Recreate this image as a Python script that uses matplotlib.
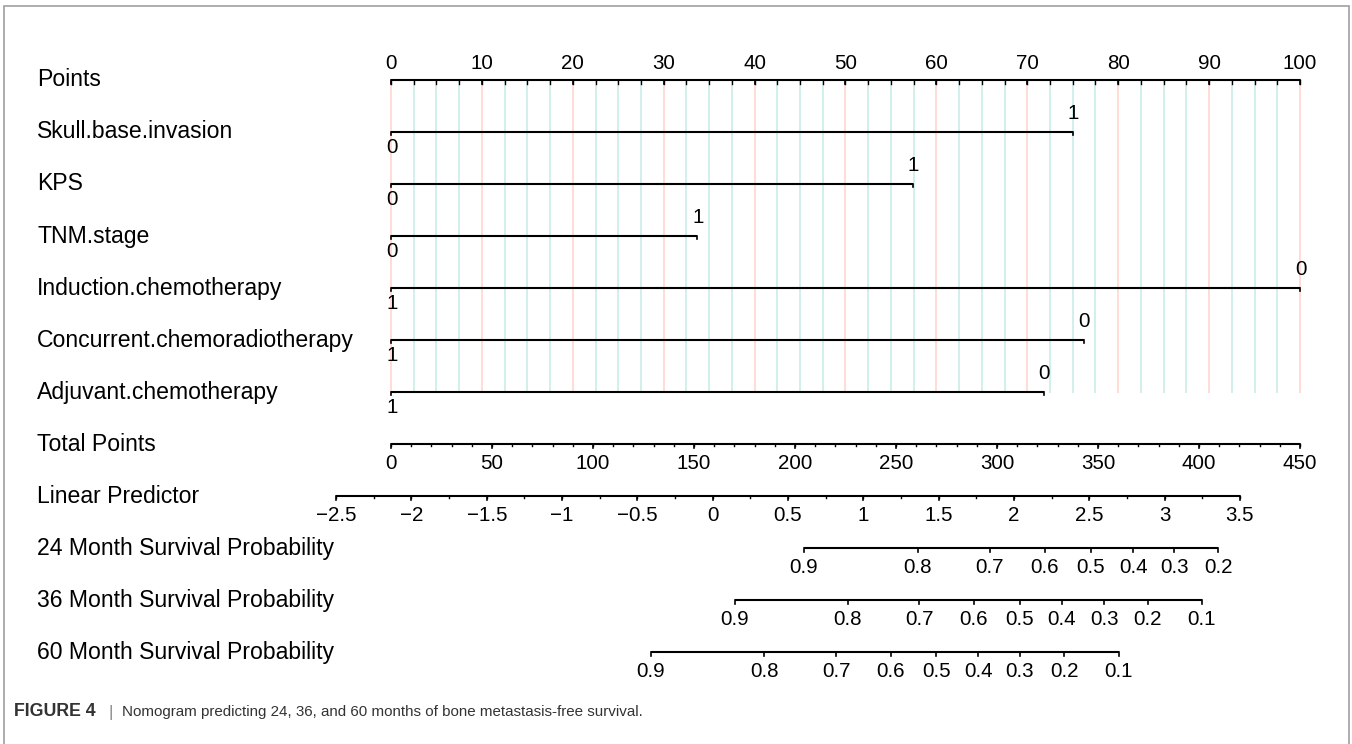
import matplotlib.pyplot as plt
import numpy as np
from matplotlib.patches import Rectangle
from matplotlib.transforms import blended_transform_factory

plt.rcParams['font.family'] = ['Liberation Sans', 'DejaVu Sans']

# ---- data ----
row_labels = ['Points', 'Skull.base.invasion', 'KPS', 'TNM.stage',
              'Induction.chemotherapy', 'Concurrent.chemoradiotherapy',
              'Adjuvant.chemotherapy', 'Total Points', 'Linear Predictor',
              '24 Month Survival Probability', '36 Month Survival Probability',
              '60 Month Survival Probability']

# factor rows: level drawn at 0 points, level drawn at the far end, and its points
factor_zero_level = ['0', '0', '0', '1', '1', '1']
factor_end_level = ['1', '1', '1', '0', '0', '0']
factor_points = [75.0, 57.4, 33.7, 100.0, 76.2, 71.8]

points_major = np.arange(0, 101, 10)
points_minor = np.arange(0, 100.1, 2.5)

total_major = np.arange(0, 451, 50)
total_minor = np.arange(0, 451, 10)

lp_major = [-2.5, -2, -1.5, -1, -0.5, 0, 0.5, 1, 1.5, 2, 2.5, 3, 3.5]
lp_minor = np.arange(-2.5, 3.51, 0.25)

surv_probs_24 = [0.9, 0.8, 0.7, 0.6, 0.5, 0.4, 0.3, 0.2]
surv_lp_24 = [0.606, 1.363, 1.838, 2.203, 2.509, 2.791, 3.063, 3.355]
surv_probs_36 = [0.9, 0.8, 0.7, 0.6, 0.5, 0.4, 0.3, 0.2, 0.1]
surv_lp_36 = [0.145, 0.898, 1.373, 1.732, 2.040, 2.319, 2.598, 2.890, 3.247]
surv_probs_60 = [0.9, 0.8, 0.7, 0.6, 0.5, 0.4, 0.3, 0.2, 0.1]
surv_lp_60 = [-0.411, 0.343, 0.819, 1.183, 1.483, 1.762, 2.040, 2.333, 2.695]

caption_bold = 'FIGURE 4'
caption_rest = 'Nomogram predicting 24, 36, and 60 months of bone metastasis-free survival.'

# scales that tie every axis to the Points axis
TOTAL_TO_PTS = 100 / 450.0
LP_ORIGIN = 35.39      # points position of LP = 0
LP_SCALE = 16.57       # points per unit of linear predictor


def lp_to_pts(v):
    return LP_ORIGIN + LP_SCALE * np.asarray(v, dtype=float)


W, H = 1352, 744
fig = plt.figure(figsize=(W / 100, H / 100), dpi=100)
ax = fig.add_axes([0, 0, 1, 1])
px = 9.09  # pixels per point unit
ax.set_xlim(-391 / px, (W - 391) / px)
row0, row_gap = 79.5, 52.0
ax.set_ylim((H - row0) / row_gap, -row0 / row_gap)
ax.axis('off')

LW = 1.5
TICK_FS = 14.8
LABEL_FS = 16.6
lab_tf = blended_transform_factory(ax.transAxes, ax.transData)


def draw_axis(y, xs_major, labels, xs_minor=None, above=False, major_len=4, minor_len=2.5):
    xs_major = np.asarray(xs_major, dtype=float)
    lo = xs_major.min() if xs_minor is None else min(xs_major.min(), np.min(xs_minor))
    hi = xs_major.max() if xs_minor is None else max(xs_major.max(), np.max(xs_minor))
    ax.plot([lo, hi], [y, y], color='black', lw=LW, solid_capstyle='butt', zorder=3)
    dy = major_len / row_gap
    for x in xs_major:
        ax.plot([x, x], [y, y + dy], color='black', lw=1.2, zorder=3)
    if xs_minor is not None:
        for x in xs_minor:
            ax.plot([x, x], [y, y + minor_len / row_gap], color='black', lw=1.0, zorder=3)
    for x, t in zip(xs_major, labels):
        if above:
            ax.annotate(t, (x, y), xytext=(0, 5), textcoords='offset points',
                        ha='center', va='bottom', fontsize=TICK_FS)
        else:
            ax.annotate(t, (x, y), xytext=(0, -7.5), textcoords='offset points',
                        ha='center', va='top', fontsize=TICK_FS)


def fmt(v):
    s = ('%g' % v)
    return s.replace('-', '\u2212')


# row labels
for i, lab in enumerate(row_labels):
    ax.text(37 / W, i + 0.5 / row_gap, lab, transform=lab_tf, ha='left', va='center',
            fontsize=LABEL_FS)

# background reference lines
grid_top, grid_bot = 0, 6
for x in points_minor:
    col = '#ffdcd5' if x % 10 == 0 else '#d0f0ec'
    ax.plot([x, x], [grid_top, grid_bot], color=col, lw=1.4, zorder=1)

# Points axis
draw_axis(0, points_major, [fmt(v) for v in points_major], points_minor,
          above=True, major_len=4, minor_len=4)

# factor rows
for k in range(len(factor_points)):
    y = k + 1
    p = factor_points[k]
    ax.plot([0, p], [y, y], color='black', lw=LW, solid_capstyle='butt', zorder=3)
    for x in (0, p):
        ax.plot([x, x], [y, y + 3.5 / row_gap], color='black', lw=1.2, zorder=3)
    ax.annotate(factor_zero_level[k], (0, y), xytext=(1, -5), textcoords='offset points',
                ha='center', va='top', fontsize=TICK_FS)
    ax.annotate(factor_end_level[k], (p, y), xytext=(0.5, 6), textcoords='offset points',
                ha='center', va='bottom', fontsize=TICK_FS)

# Total points
draw_axis(7, total_major * TOTAL_TO_PTS, [fmt(v) for v in total_major],
          total_minor * TOTAL_TO_PTS)

# Linear predictor
draw_axis(8, lp_to_pts(lp_major), [fmt(v) for v in lp_major], lp_to_pts(lp_minor))

# survival probability axes
for y, probs, lps in [(9, surv_probs_24, surv_lp_24),
                      (10, surv_probs_36, surv_lp_36),
                      (11, surv_probs_60, surv_lp_60)]:
    draw_axis(y, lp_to_pts(lps), [fmt(v) for v in probs])

# frame around the figure panel
fig.patches.append(Rectangle((4 / W, -0.02), 1345 / W, (H - 6) / H + 0.02,
                             transform=fig.transFigure, fill=False,
                             edgecolor='#a0a0a0', lw=1.2))

# caption
cap_y = 1 - 712 / H
fig.text(14 / W, cap_y, caption_bold, fontsize=12.8, fontweight='bold',
         color='#333333', va='center')
fig.text(111 / W, cap_y, '|', fontsize=12, color='#888888', va='center', ha='center')
fig.text(122 / W, cap_y, caption_rest, fontsize=10.9, color='#333333', va='center')

fig.savefig('out.png', dpi=100, facecolor='white')
